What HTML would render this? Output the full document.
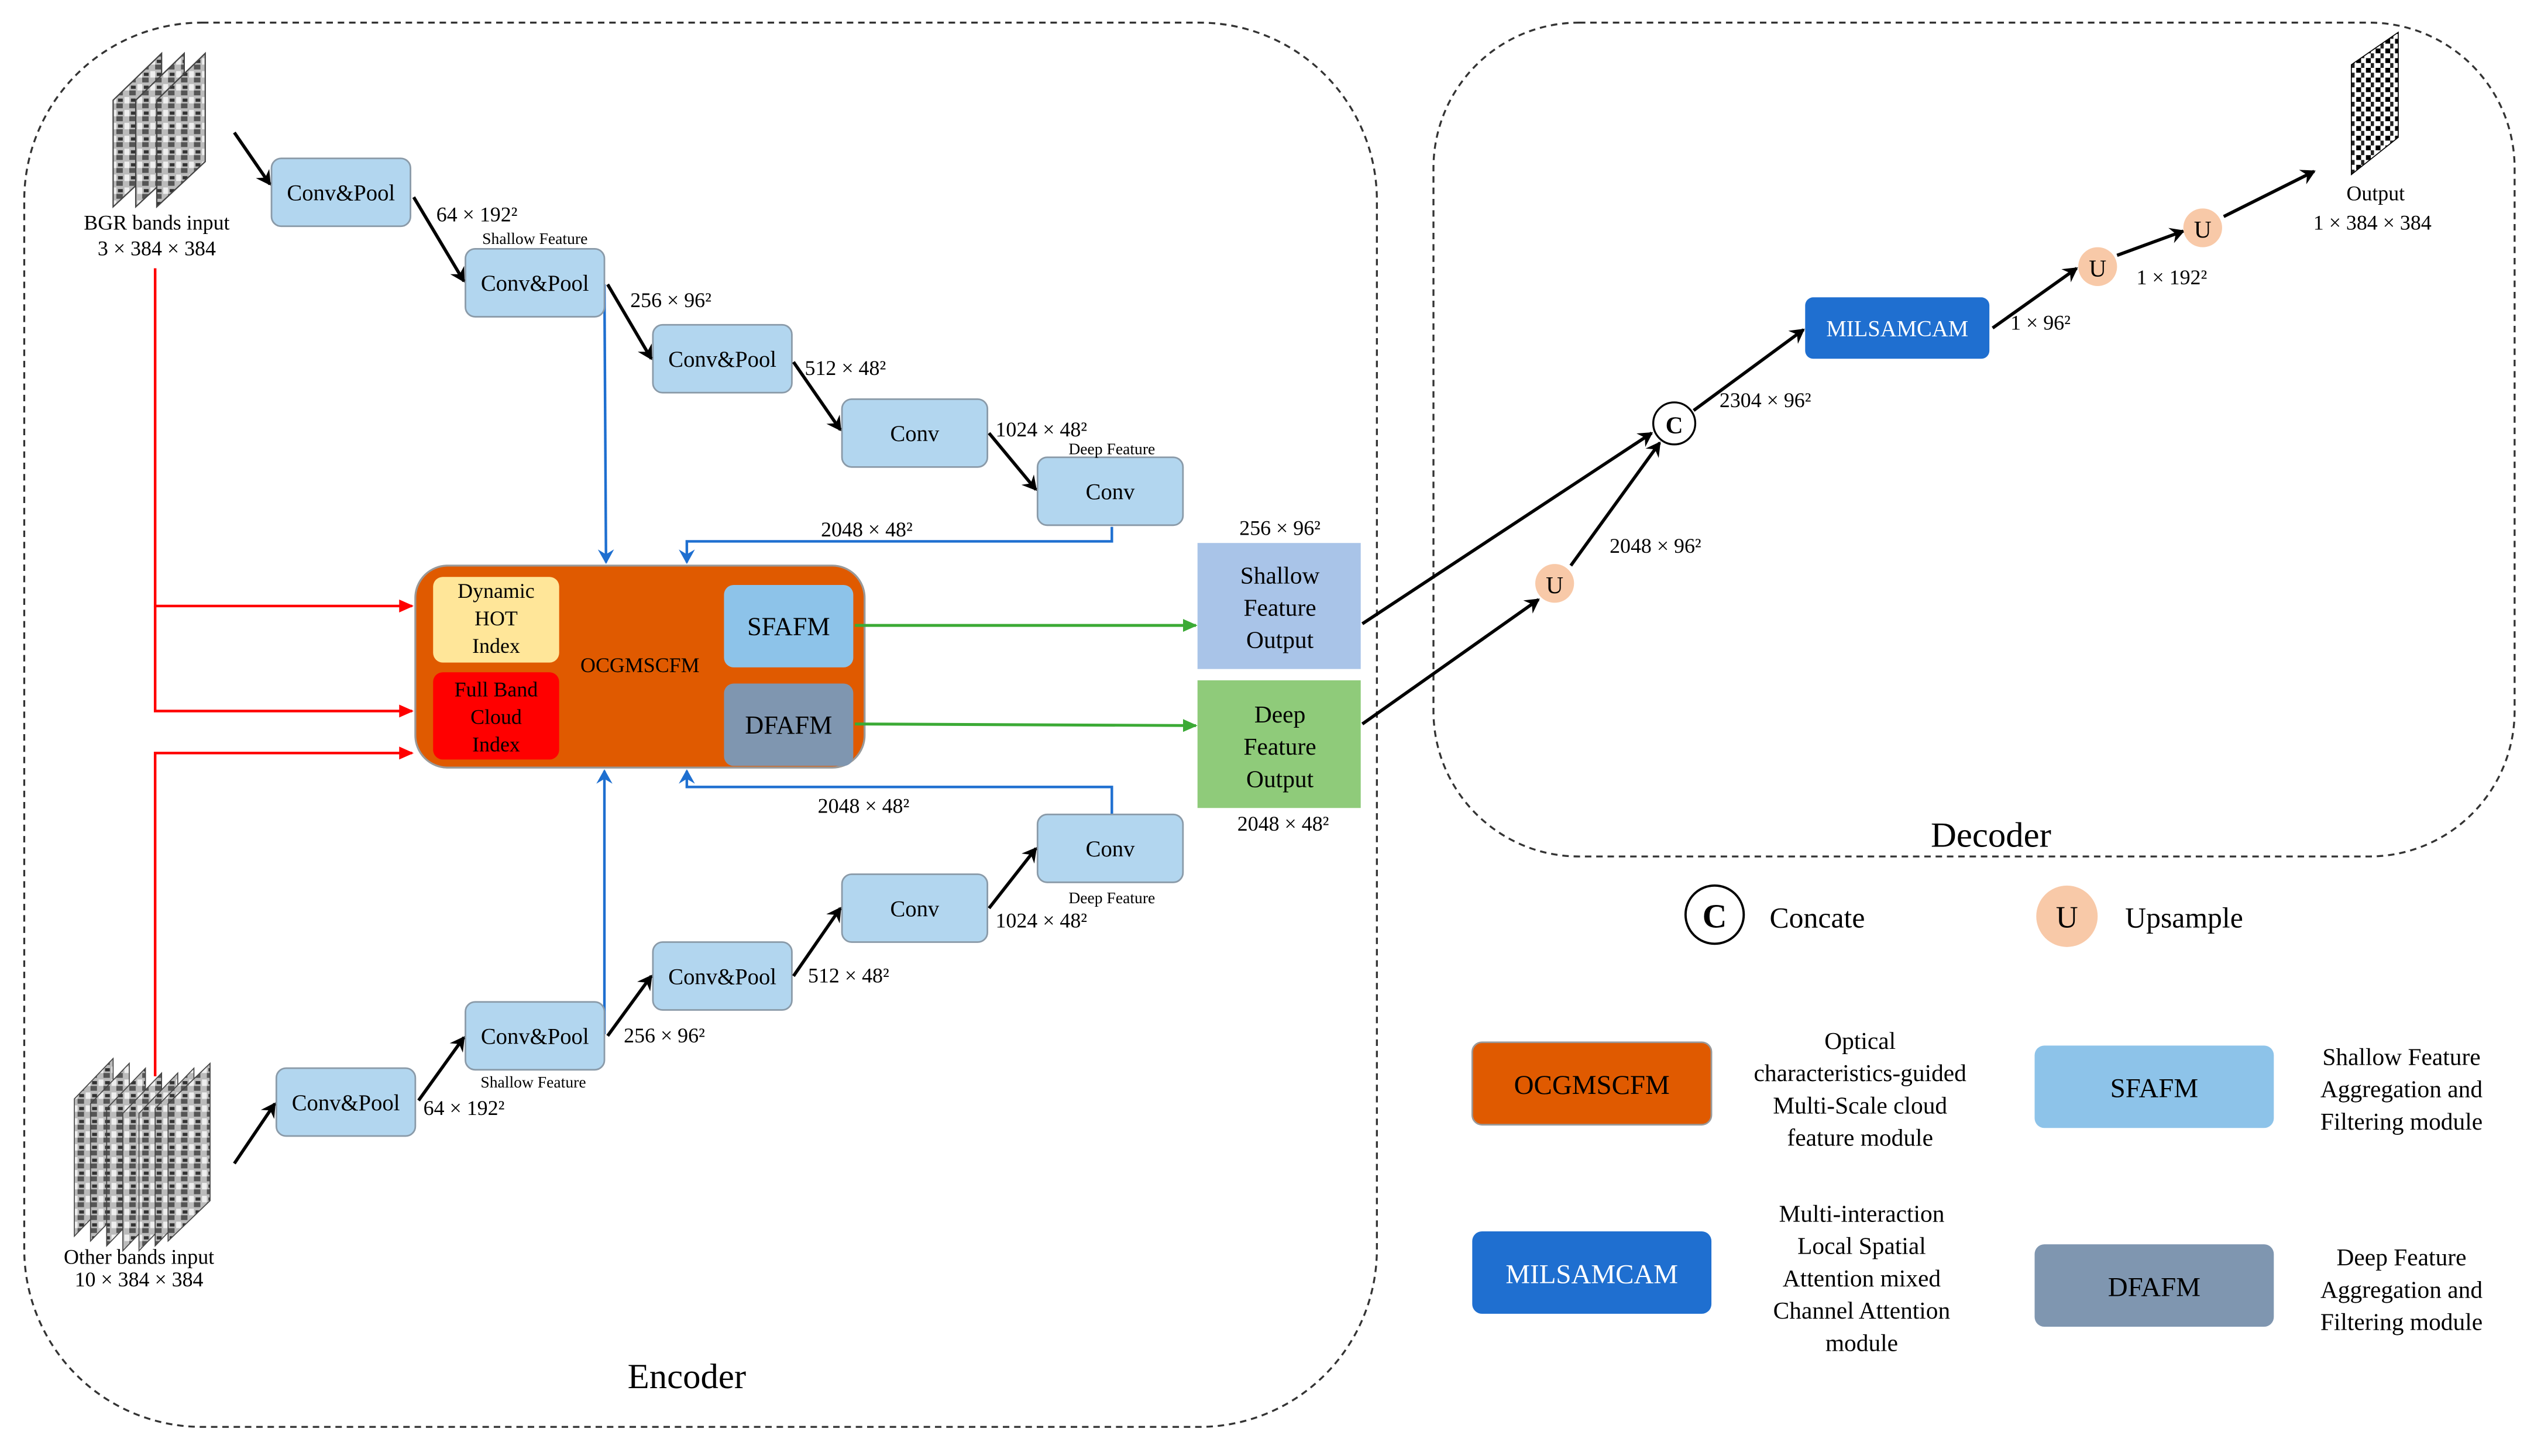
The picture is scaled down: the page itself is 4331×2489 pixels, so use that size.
<!DOCTYPE html>
<html><head><meta charset="utf-8"><style>
html,body{margin:0;padding:0;background:#fff;}
svg{display:block;font-family:"Liberation Serif",serif;}
svg text{font-family:"Liberation Serif",serif;fill:#000;}
</style></head><body>
<svg width="4331" height="2489" viewBox="0 0 1568 901" preserveAspectRatio="none" xmlns="http://www.w3.org/2000/svg" font-family="Liberation Serif, serif">
<defs>
<marker id="ak" markerWidth="10" markerHeight="10" refX="8" refY="5" orient="auto" markerUnits="userSpaceOnUse"><path d="M0,0 L9,5 L0,10 L3,5 z" fill="#000"/></marker>
<marker id="ab" markerWidth="10" markerHeight="10" refX="8" refY="5" orient="auto" markerUnits="userSpaceOnUse"><path d="M0,0 L9,5 L0,10 L3,5 z" fill="#1E6FD0"/></marker>
<marker id="ar" markerWidth="10" markerHeight="10" refX="8" refY="5" orient="auto" markerUnits="userSpaceOnUse"><path d="M0,1 L9,5 L0,9 z" fill="#F00"/></marker>
<marker id="ag" markerWidth="10" markerHeight="10" refX="8" refY="5" orient="auto" markerUnits="userSpaceOnUse"><path d="M0,1 L9,5 L0,9 z" fill="#3BAA35"/></marker>
<pattern id="noise" width="8" height="8" patternUnits="userSpaceOnUse"><rect width="8" height="8" fill="#bbb"/><rect x="0" y="0" width="4" height="3" fill="#555"/><rect x="5" y="4" width="3" height="4" fill="#eee"/><rect x="1" y="5" width="3" height="2" fill="#333"/></pattern>
<pattern id="noise2" width="6" height="6" patternUnits="userSpaceOnUse"><rect width="6" height="6" fill="#fff"/><rect x="0" y="0" width="3" height="3" fill="#000"/><rect x="3" y="3" width="2" height="3" fill="#222"/></pattern>
</defs>

<rect x="15" y="14" width="837" height="869" rx="110" fill="none" stroke="#333" stroke-width="1.2" stroke-dasharray="4,3"/>
<rect x="887" y="14" width="669" height="516" rx="90" fill="none" stroke="#333" stroke-width="1.2" stroke-dasharray="4,3"/>
<text x="425" y="859" font-size="22" text-anchor="middle">Encoder</text>
<text x="1232" y="524" font-size="22" text-anchor="middle">Decoder</text>

<g stroke="#444" stroke-width="0.8">
<polygon points="70,62 100,33 100,100 70,128" fill="url(#noise)"/>
<polygon points="84,62 114,33 114,100 84,128" fill="url(#noise)"/>
<polygon points="97,62 127,33 127,100 97,128" fill="url(#noise)"/>
</g>
<text x="97" y="142" font-size="13" text-anchor="middle">BGR bands input</text>
<text x="97" y="158" font-size="13" text-anchor="middle">3 × 384 × 384</text>

<g stroke="#444" stroke-width="0.6">
<polygon points="46,680 70,655 70,740 46,765" fill="url(#noise)"/>
<polygon points="56,683 80,658 80,743 56,768" fill="url(#noise)"/>
<polygon points="66,686 90,661 90,746 66,771" fill="url(#noise)"/>
<polygon points="76,689 100,664 100,749 76,774" fill="url(#noise)"/>
<polygon points="86,689 110,664 110,749 86,774" fill="url(#noise)"/>
<polygon points="96,686 120,661 120,746 96,771" fill="url(#noise)"/>
<polygon points="104,683 130,658 130,743 104,768" fill="url(#noise)"/>
</g>
<text x="86" y="782" font-size="13" text-anchor="middle">Other bands input</text>
<text x="86" y="796" font-size="13" text-anchor="middle">10 × 384 × 384</text>

<g stroke="#F00" stroke-width="1.6" fill="none">
<path d="M96,166 L96,375 L255,375" marker-end="url(#ar)"/>
<path d="M96,375 L96,440 L255,440" marker-end="url(#ar)"/>
<path d="M96,666 L96,466 L255,466" marker-end="url(#ar)"/>
</g>

<g stroke="#1E6FD0" stroke-width="1.6" fill="none">
<path d="M374,176 L375,348" marker-end="url(#ab)"/>
<path d="M688,326 L688,335 L425,335 L425,348" marker-end="url(#ab)"/>
<path d="M374,640 L374,477" marker-end="url(#ab)"/>
<path d="M688,504 L688,487 L425,487 L425,477" marker-end="url(#ab)"/>
</g>

<g fill="#B2D6EF" stroke="#8a9aa8" stroke-width="1">
<rect x="168" y="98" width="86" height="42" rx="6"/>
<rect x="288" y="154" width="86" height="42" rx="6"/>
<rect x="404" y="201" width="86" height="42" rx="6"/>
<rect x="521" y="247" width="90" height="42" rx="6"/>
<rect x="642" y="283" width="90" height="42" rx="6"/>
<rect x="171" y="661" width="86" height="42" rx="6"/>
<rect x="288" y="620" width="86" height="42" rx="6"/>
<rect x="404" y="583" width="86" height="42" rx="6"/>
<rect x="521" y="541" width="90" height="42" rx="6"/>
<rect x="642" y="504" width="90" height="42" rx="6"/>
</g>
<g font-size="14" text-anchor="middle">
<text x="211" y="124">Conv&amp;Pool</text>
<text x="331" y="180">Conv&amp;Pool</text>
<text x="447" y="227">Conv&amp;Pool</text>
<text x="566" y="273">Conv</text>
<text x="687" y="309">Conv</text>
<text x="214" y="687">Conv&amp;Pool</text>
<text x="331" y="646">Conv&amp;Pool</text>
<text x="447" y="609">Conv&amp;Pool</text>
<text x="566" y="567">Conv</text>
<text x="687" y="530">Conv</text>
</g>

<g stroke="#000" stroke-width="2" fill="none" marker-end="url(#ak)">
<line x1="145" y1="82" x2="167" y2="114"/>
<line x1="256" y1="122" x2="287" y2="174"/>
<line x1="376" y1="176" x2="403" y2="222"/>
<line x1="491" y1="224" x2="520" y2="266"/>
<line x1="612" y1="268" x2="641" y2="303"/>
<line x1="145" y1="720" x2="170" y2="683"/>
<line x1="259" y1="681" x2="287" y2="642"/>
<line x1="376" y1="641" x2="403" y2="604"/>
<line x1="491" y1="604" x2="520" y2="562"/>
<line x1="612" y1="562" x2="641" y2="525"/>
</g>

<g font-size="13">
<text x="270" y="137">64 × 192²</text>
<text x="390" y="190">256 × 96²</text>
<text x="498" y="232">512 × 48²</text>
<text x="616" y="270">1024 × 48²</text>
<text x="508" y="332">2048 × 48²</text>
<text x="262" y="690">64 × 192²</text>
<text x="386" y="645">256 × 96²</text>
<text x="500" y="608">512 × 48²</text>
<text x="616" y="574">1024 × 48²</text>
<text x="506" y="503">2048 × 48²</text>
</g>
<g font-size="10" text-anchor="middle">
<text x="331" y="151">Shallow Feature</text>
<text x="688" y="281">Deep Feature</text>
<text x="330" y="673">Shallow Feature</text>
<text x="688" y="559">Deep Feature</text>
</g>

<rect x="257" y="350" width="278" height="125" rx="20" fill="#E05A00" stroke="#999" stroke-width="1.2"/>
<rect x="268" y="357" width="78" height="53" rx="6" fill="#FFE699"/>
<rect x="268" y="416" width="78" height="54" rx="6" fill="#FF0000"/>
<rect x="448" y="362" width="80" height="51" rx="6" fill="#8DC3E9"/>
<rect x="448" y="423" width="80" height="51" rx="6" fill="#7F96B0"/>
<g font-size="13" text-anchor="middle">
<text x="307" y="370">Dynamic</text><text x="307" y="387">HOT</text><text x="307" y="404">Index</text>
<text x="307" y="431">Full Band</text><text x="307" y="448">Cloud</text><text x="307" y="465">Index</text>
<text x="396" y="416">OCGMSCFM</text>
</g>
<text x="488" y="393" font-size="16" text-anchor="middle">SFAFM</text>
<text x="488" y="454" font-size="16" text-anchor="middle">DFAFM</text>

<g stroke="#3BAA35" stroke-width="1.8" fill="none" marker-end="url(#ag)">
<line x1="529" y1="387" x2="740" y2="387"/>
<line x1="529" y1="448" x2="740" y2="449"/>
</g>

<rect x="741" y="336" width="101" height="78" fill="#A9C4E8"/>
<rect x="741" y="421" width="101" height="79" fill="#8FCB7A"/>
<g font-size="15" text-anchor="middle">
<text x="792" y="361">Shallow</text><text x="792" y="381">Feature</text><text x="792" y="401">Output</text>
<text x="792" y="447">Deep</text><text x="792" y="467">Feature</text><text x="792" y="487">Output</text>
</g>
<text x="792" y="331" font-size="13" text-anchor="middle">256 × 96²</text>
<text x="794" y="514" font-size="13" text-anchor="middle">2048 × 48²</text>

<g stroke="#000" stroke-width="2" fill="none" marker-end="url(#ak)">
<line x1="843" y1="386" x2="1022" y2="268"/>
<line x1="843" y1="448" x2="952" y2="371"/>
<line x1="972" y1="350" x2="1027" y2="274"/>
<line x1="1048" y1="254" x2="1116" y2="204"/>
<line x1="1233" y1="203" x2="1285" y2="166"/>
<line x1="1310" y1="158" x2="1351" y2="143"/>
<line x1="1376" y1="134" x2="1432" y2="106"/>
</g>
<circle cx="1036" cy="262" r="13" fill="#fff" stroke="#000" stroke-width="1.2"/>
<text x="1036" y="268" font-size="15" font-weight="bold" text-anchor="middle">C</text>
<circle cx="962" cy="361" r="12" fill="#F8C9A8"/>
<text x="962" y="367" font-size="15" text-anchor="middle">U</text>
<circle cx="1298" cy="165" r="12" fill="#F8C9A8"/>
<text x="1298" y="171" font-size="15" text-anchor="middle">U</text>
<circle cx="1363" cy="141" r="12" fill="#F8C9A8"/>
<text x="1363" y="147" font-size="15" text-anchor="middle">U</text>
<rect x="1117" y="184" width="114" height="38" rx="5" fill="#1F6FD0"/>
<text x="1174" y="208" font-size="14" text-anchor="middle" style="fill:#fff">MILSAMCAM</text>
<g font-size="13">
<text x="1064" y="252">2304 × 96²</text>
<text x="996" y="342">2048 × 96²</text>
<text x="1244" y="204">1 × 96²</text>
<text x="1322" y="176">1 × 192²</text>
</g>
<polygon points="1455,40 1484,20 1484,85 1455,108" fill="url(#noise2)" stroke="#000" stroke-width="0.6"/>
<text x="1470" y="124" font-size="13" text-anchor="middle">Output</text>
<text x="1468" y="142" font-size="13" text-anchor="middle">1 × 384 × 384</text>

<circle cx="1061" cy="566" r="18" fill="#fff" stroke="#000" stroke-width="1.4"/>
<text x="1061" y="574" font-size="21" font-weight="bold" text-anchor="middle">C</text>
<text x="1095" y="574" font-size="18">Concate</text>
<circle cx="1279" cy="567" r="19" fill="#F8C9A8"/>
<text x="1279" y="574" font-size="19" text-anchor="middle">U</text>
<text x="1315" y="574" font-size="18">Upsample</text>

<rect x="911" y="645" width="148" height="51" rx="6" fill="#E05A00" stroke="#999"/>
<text x="985" y="677" font-size="17" text-anchor="middle">OCGMSCFM</text>
<rect x="1259" y="647" width="148" height="51" rx="6" fill="#8DC3E9"/>
<text x="1333" y="679" font-size="17" text-anchor="middle">SFAFM</text>
<rect x="911" y="762" width="148" height="51" rx="6" fill="#1F6FD0"/>
<text x="985" y="794" font-size="17" text-anchor="middle" style="fill:#fff">MILSAMCAM</text>
<rect x="1259" y="770" width="148" height="51" rx="6" fill="#7F96B0"/>
<text x="1333" y="802" font-size="17" text-anchor="middle">DFAFM</text>
<g font-size="15" text-anchor="middle">
<text x="1151" y="649">Optical</text><text x="1151" y="669">characteristics-guided</text><text x="1151" y="689">Multi-Scale cloud</text><text x="1151" y="709">feature module</text>
<text x="1486" y="659">Shallow Feature</text><text x="1486" y="679">Aggregation and</text><text x="1486" y="699">Filtering module</text>
<text x="1152" y="756">Multi-interaction</text><text x="1152" y="776">Local Spatial</text><text x="1152" y="796">Attention mixed</text><text x="1152" y="816">Channel Attention</text><text x="1152" y="836">module</text>
<text x="1486" y="783">Deep Feature</text><text x="1486" y="803">Aggregation and</text><text x="1486" y="823">Filtering module</text>
</g>
</svg>
</body></html>
